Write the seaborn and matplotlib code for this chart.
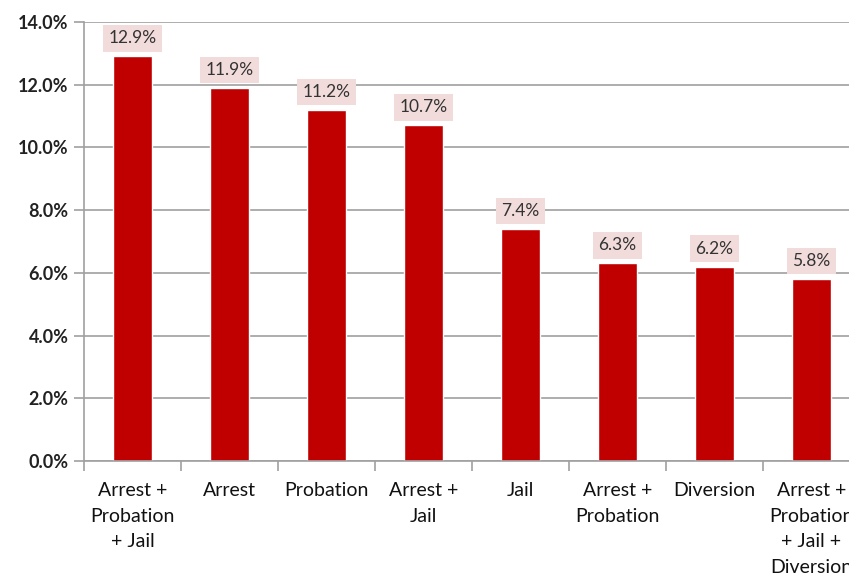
import matplotlib
matplotlib.use("Agg")
import matplotlib.pyplot as plt
import seaborn as sns
import pandas as pd
import numpy as np
from matplotlib.ticker import FuncFormatter, MultipleLocator

categories = [
    "Arrest +\nProbation\n+ Jail",
    "Arrest",
    "Probation",
    "Arrest +\nJail",
    "Jail",
    "Arrest +\nProbation",
    "Diversion",
    "Arrest +\nProbation\n+ Jail +\nDiversion",
]
rates = [12.9, 11.9, 11.2, 10.7, 7.4, 6.3, 6.2, 5.8]

df = pd.DataFrame({"category": categories, "rate": rates})

sns.set_theme(style="white")
plt.rcParams["font.family"] = ["Lato", "DejaVu Sans"]

fig = plt.figure(figsize=(8.49, 5.76), dpi=100)
ax = fig.add_axes([84 / 849, 1 - 461 / 576, 776 / 849, 439 / 576])

sns.barplot(data=df, x="category", y="rate", color="#C00000", width=0.41,
            saturation=1, ax=ax, order=categories)

ax.set_ylim(0, 14)
ax.set_xlim(-0.5, len(categories) - 0.5)
ax.yaxis.set_major_locator(MultipleLocator(2))
ax.yaxis.set_major_formatter(FuncFormatter(lambda v, _: f"{v:.1f}%"))
ax.grid(axis="y", color="#a0a0a0", linewidth=1.2)
ax.set_axisbelow(True)
ax.set_xlabel("")
ax.set_ylabel("")

for side in ["top", "right"]:
    ax.spines[side].set_visible(False)
for side in ["left", "bottom"]:
    ax.spines[side].set_color("#a0a0a0")
    ax.spines[side].set_linewidth(1.2)

ax.tick_params(axis="y", length=7, width=1.2, color="#a0a0a0", labelsize=13,
               labelcolor="#222222", pad=4, left=True)
for lbl in ax.get_yticklabels():
    lbl.set_fontweight("bold")

# category ticks sit on the boundaries between bars
ax.set_xticks(np.arange(len(categories) + 1) - 0.5, minor=True)
ax.tick_params(axis="x", which="minor", length=7, width=1.2, color="#a0a0a0",
               bottom=True)
ax.tick_params(axis="x", which="major", length=0, labelsize=14,
               labelcolor="#111111", pad=15)
ax.set_xticks(range(len(categories)))
ax.set_xticklabels(categories, linespacing=1.62)

for i, v in enumerate(rates):
    ax.annotate(f"{v:.1f}%", (i, v), xytext=(0, 13), textcoords="offset points",
                ha="center", va="center", fontsize=12.5, color="#333333",
                bbox=dict(boxstyle="square,pad=0.3", facecolor="#F2DCDB",
                          edgecolor="none"))

fig.savefig("out.png", dpi=100)
